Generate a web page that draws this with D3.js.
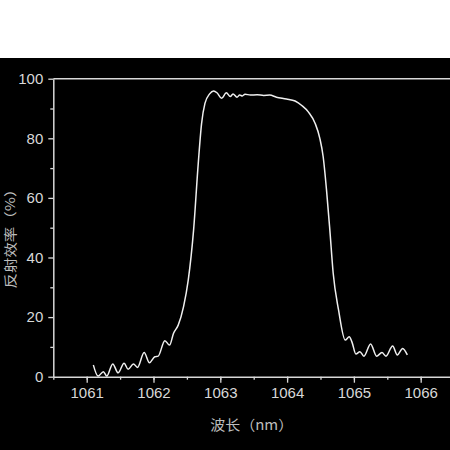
<!DOCTYPE html>
<html><head><meta charset="utf-8">
<script src="https://cdn.jsdelivr.net/npm/d3@7"></script>
<style>html,body{margin:0;padding:0;background:#fff;}svg{display:block;}</style>
</head><body>
<script>
const wavelength = [1061.10,1061.17,1061.25,1061.30,1061.39,1061.47,1061.56,1061.62,1061.70,1061.76,1061.86,1061.94,1062.02,1062.07,1062.17,1062.24,1062.30,1062.37,1062.45,1062.52,1062.60,1062.67,1062.72,1062.77,1062.84,1062.90,1062.95,1063.02,1063.09,1063.15,1063.19,1063.25,1063.29,1063.33,1063.37,1063.45,1063.55,1063.65,1063.74,1063.84,1063.99,1064.12,1064.22,1064.32,1064.42,1064.49,1064.54,1064.59,1064.64,1064.69,1064.77,1064.87,1064.93,1064.97,1065.03,1065.09,1065.15,1065.25,1065.34,1065.42,1065.48,1065.58,1065.65,1065.73,1065.80];
const reflectivity = [3.9,0.2,1.7,0.2,4.3,1.3,4.5,2.5,4.3,3.1,8.1,4.7,6.7,6.9,12.1,10.6,14.6,17.3,23.5,32.4,49.2,71.6,85.0,91.7,94.9,95.9,95.3,93.4,95.3,94.0,94.9,93.8,94.5,94.2,94.8,94.5,94.6,94.4,94.5,93.8,93.2,92.5,91.0,88.8,85.0,80.0,73.8,62.7,49.2,34.7,22.4,12.3,13.4,11.7,7.6,8.4,6.9,11.0,6.9,8.1,6.9,10.3,7.3,9.5,7.3];
const xTicks = [1061,1062,1063,1064,1065,1066];
const yTicks = [0,20,40,60,80,100];
const xLabel = "波长（nm）";
const yLabel = "反射效率（%）";

const W = 450, H = 450;
const svg = d3.select("body").append("svg").attr("width", W).attr("height", H);
svg.append("rect").attr("x",0).attr("y",0).attr("width",W).attr("height",H).attr("fill","#fff");
svg.append("rect").attr("x",0).attr("y",58).attr("width",W).attr("height",H-58).attr("fill","#000");

const x = d3.scaleLinear().domain([1060.5, 1066.5]).range([53.3, 454.1]);
const y = d3.scaleLinear().domain([0, 100]).range([376.7, 78.7]);
const axisColor = "#d8d8d8";
const font = "'Liberation Sans', Arial, sans-serif";

// minor ticks
const gxMinor = svg.append("g").attr("transform", `translate(0,${y(0)})`)
  .call(d3.axisBottom(x).tickValues(d3.range(1060.5, 1066.6, 0.5)).tickSize(3).tickFormat(""));
const gyMinor = svg.append("g").attr("transform", `translate(${x(1060.5)},0)`)
  .call(d3.axisLeft(y).tickValues(d3.range(10, 100, 20)).tickSize(3).tickFormat(""));
[gxMinor, gyMinor].forEach(g => { g.select(".domain").remove(); g.selectAll("line").attr("stroke", axisColor).attr("stroke-width", 1.3); });

const gx = svg.append("g").attr("transform", `translate(0,${y(0)})`)
  .call(d3.axisBottom(x).tickValues(xTicks).tickSize(6).tickSizeOuter(0).tickPadding(5).tickFormat(d3.format("d")));
const gy = svg.append("g").attr("transform", `translate(${x(1060.5)},0)`)
  .call(d3.axisLeft(y).tickValues(yTicks).tickSize(5).tickSizeOuter(0).tickPadding(5));
[gx, gy].forEach(g => {
  g.select(".domain").attr("stroke", axisColor).attr("stroke-width", 1.5);
  g.selectAll("line").attr("stroke", axisColor).attr("stroke-width", 1.3);
  g.selectAll("text").attr("fill", axisColor).attr("font-size", 15).attr("font-family", font);
});
// top frame line
svg.append("line").attr("x1", x(1060.5)).attr("x2", W).attr("y1", y(100)).attr("y2", y(100))
  .attr("stroke", axisColor).attr("stroke-width", 1.5);

const data = wavelength.map((w, i) => ({w, r: reflectivity[i]}));
svg.append("path").datum(data)
  .attr("fill", "none").attr("stroke", "#efefef").attr("stroke-width", 1.5)
  .attr("d", d3.line().x(d => x(d.w)).y(d => y(d.r)).curve(d3.curveMonotoneX));

svg.append("text").text(xLabel)
  .attr("x", 251.7).attr("y", 430).attr("text-anchor", "middle")
  .attr("font-family", "'Noto Sans CJK SC', sans-serif").attr("font-size", 14)
  .attr("textLength", 83).attr("lengthAdjust", "spacingAndGlyphs")
  .attr("fill", "#bdbdbd");
svg.append("text").text(yLabel)
  .attr("transform", "translate(9.5,235) rotate(-90)")
  .attr("text-anchor", "middle").attr("dominant-baseline", "central")
  .attr("font-family", "'Noto Sans CJK SC', sans-serif").attr("font-size", 13)
  .attr("textLength", 107).attr("lengthAdjust", "spacingAndGlyphs")
  .attr("fill", "#bdbdbd");
</script>
</body></html>
